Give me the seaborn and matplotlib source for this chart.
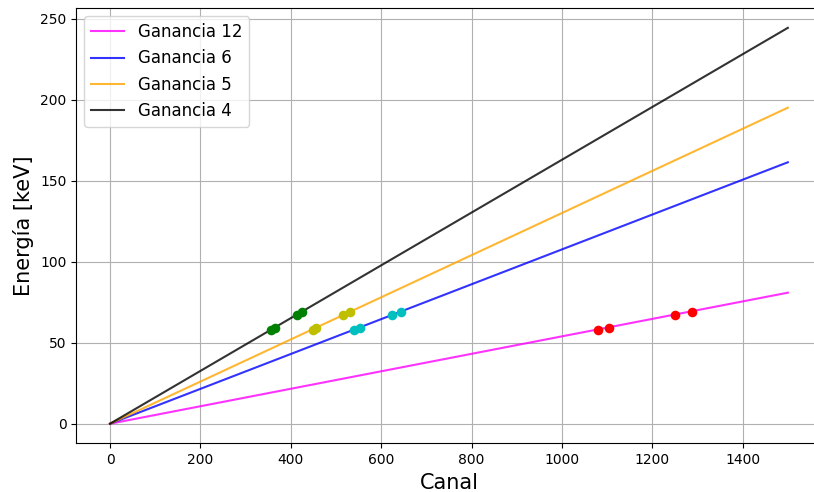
import matplotlib
matplotlib.use("Agg")
import matplotlib.pyplot as plt
import seaborn as sns
import pandas as pd

# Calibration lines: energy reached at the last channel for each gain
gain_labels = ["Ganancia 12", "Ganancia 6", "Ganancia 5", "Ganancia 4"]
line_colors = ["magenta", "blue", "orange", "black"]
channel_range = [0, 1500]
end_energy = [80.9, 161.4, 195.1, 244.4]

# Tungsten K X-ray lines (keV) and the peak channels found for each gain
peak_energy = [57.98, 59.32, 67.24, 69.07]
peaks_g12 = [1080, 1105, 1250, 1287]
peaks_g6 = [541, 553, 624, 644]
peaks_g5 = [449, 456, 516, 531]
peaks_g4 = [357, 365, 413, 424]
peak_colors = ["r", "c", "y", "g"]

lines = pd.DataFrame({
    "Canal": [c for _ in gain_labels for c in channel_range],
    "Energia": [v for e in end_energy for v in (0.0, e)],
    "Ganancia": [g for g in gain_labels for _ in channel_range],
})

fig = plt.figure(figsize=(8.14, 4.92), dpi=100)
ax = fig.add_axes([0.0935, 0.0986, 0.916, 0.885])

sns.lineplot(data=lines, x="Canal", y="Energia", hue="Ganancia",
             palette=dict(zip(gain_labels, line_colors)), alpha=0.8,
             linewidth=1.5, ax=ax, zorder=2)

for peaks, col in zip([peaks_g12, peaks_g6, peaks_g5, peaks_g4], peak_colors):
    sns.scatterplot(x=peaks, y=peak_energy, color=col, s=48, linewidth=0,
                    legend=False, ax=ax, zorder=3)

ax.set_xlim(-75, 1575)
ax.set_ylim(-12.2, 256.6)
ax.grid(True, color="#b0b0b0", linewidth=0.8)
ax.set_axisbelow(True)
ax.tick_params(labelsize=10)
ax.set_xlabel("Canal", fontsize=15)
ax.set_ylabel("Energía [keV]", fontsize=15)
leg = ax.legend(loc="upper left", fontsize=12, title=None)
for h in leg.get_lines():
    h.set_alpha(0.8)
    h.set_linewidth(1.5)

fig.savefig("out.png", dpi=100)
